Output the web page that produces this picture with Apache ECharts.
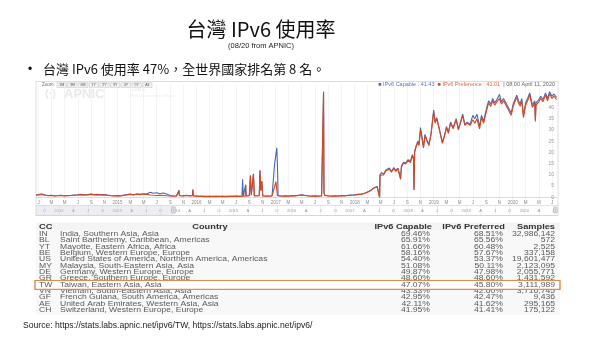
<!DOCTYPE html>
<html><head><meta charset="utf-8">
<script src="https://cdn.jsdelivr.net/npm/echarts@6/dist/echarts.min.js"></script>
<style>html,body{margin:0;padding:0;background:#fff}#c{width:600px;height:338px}</style>
</head><body><div id="c"></div>
<script>
// ---------- chart data ----------
const dates = [
'2013-12-20','2014-01-01','2014-01-15','2014-02-01','2014-02-15','2014-03-01','2014-03-15','2014-04-01','2014-04-15','2014-05-01','2014-05-15','2014-06-01','2014-06-15',
'2014-07-01','2014-07-15','2014-08-01','2014-08-15','2014-09-01','2014-09-15','2014-10-01','2014-10-15','2014-11-01','2014-11-15','2014-12-01','2014-12-15',
'2015-01-01','2015-01-15','2015-02-01','2015-02-15','2015-03-01','2015-03-15','2015-04-01','2015-04-15','2015-05-01','2015-05-15','2015-06-01','2015-06-15',
'2015-07-01','2015-07-15','2015-08-01','2015-08-15','2015-09-01','2015-09-15','2015-10-01','2015-10-10','2015-10-12','2015-10-14','2015-11-01','2015-11-15',
'2015-12-01','2015-12-13','2015-12-15','2015-12-17','2016-01-01','2016-01-15','2016-02-01','2016-02-15','2016-03-01','2016-03-15','2016-04-01','2016-04-15',
'2016-05-01','2016-05-15','2016-06-01','2016-06-15','2016-07-01','2016-07-15','2016-07-29','2016-08-01','2016-08-04','2016-08-13','2016-08-15','2016-08-17',
'2016-09-01','2016-09-06','2016-09-10','2016-09-20','2016-09-24','2016-10-01','2016-10-17','2016-10-20','2016-10-24','2016-10-29','2016-11-02','2016-11-15',
'2016-12-01','2016-12-15','2016-12-24','2016-12-27','2017-01-02','2017-01-06','2017-01-09','2017-01-12','2017-02-01','2017-02-15','2017-03-01','2017-03-15',
'2017-04-01','2017-04-15','2017-05-01','2017-05-06','2017-05-15','2017-06-01','2017-06-15','2017-07-01','2017-07-15','2017-08-01','2017-08-08','2017-08-10',
'2017-08-12','2017-08-16','2017-09-01','2017-09-15','2017-10-01','2017-10-15','2017-11-01','2017-11-15','2017-12-01','2017-12-15','2018-01-01','2018-01-15',
'2018-02-01','2018-02-15','2018-03-01','2018-03-15','2018-04-01','2018-04-15','2018-04-24','2018-04-26','2018-04-28','2018-05-05','2018-05-15','2018-05-25',
'2018-06-01','2018-06-10','2018-06-20','2018-07-01','2018-07-10','2018-07-20','2018-08-01','2018-08-05','2018-08-15','2018-08-25','2018-09-05','2018-09-15',
'2018-09-25','2018-09-30','2018-10-02','2018-10-05','2018-10-12','2018-10-20','2018-10-25','2018-11-01','2018-11-08','2018-11-15','2018-11-22','2018-12-01',
'2018-12-10','2018-12-20','2019-01-01','2019-01-08','2019-01-15','2019-01-25','2019-02-01','2019-02-10','2019-02-20','2019-03-01','2019-03-10','2019-03-20',
'2019-04-01','2019-04-15','2019-04-25','2019-05-05','2019-05-15','2019-05-25','2019-06-05','2019-06-18','2019-07-01','2019-07-10','2019-07-20','2019-08-01',
'2019-08-10','2019-08-20','2019-09-01','2019-09-12','2019-09-22','2019-10-01','2019-10-10','2019-10-20','2019-11-01','2019-11-10','2019-11-20','2019-12-01',
'2019-12-12','2019-12-25','2020-01-05','2020-01-20','2020-01-28','2020-02-05','2020-02-12','2020-02-20','2020-03-01','2020-03-10','2020-03-20','2020-04-01',
'2020-04-12','2020-04-15','2020-04-18','2020-05-01','2020-05-10','2020-05-20','2020-06-01','2020-06-10','2020-06-20','2020-07-01','2020-07-10','2020-07-22'
];
const capable = [
1.0,1.2,1.4,1.0,0.8,0.9,0.7,0.8,0.9,0.7,0.8,0.9,1.0,
1.1,1.3,1.1,1.2,1.4,1.2,1.3,1.1,1.2,1.0,0.8,0.7,
0.8,0.7,1.0,1.2,1.4,1.1,1.5,1.3,1.6,1.5,2.2,1.8,
2.0,1.6,1.9,1.5,0.8,0.6,0.7,0.8,3.1,0.8,0.7,0.9,
0.7,0.8,3.4,0.7,0.6,0.5,0.5,0.4,0.5,0.4,0.5,0.4,
0.5,0.4,0.5,0.5,0.6,0.5,0.6,8.0,0.6,0.6,5.6,0.7,
0.8,9.8,1.0,10.5,0.7,0.7,0.8,12.0,3.1,7.2,0.7,0.6,
0.6,0.7,0.7,15.0,15.5,22.0,14.0,0.7,0.6,0.7,0.6,0.8,
0.7,0.9,1.1,1.9,0.9,0.7,0.6,0.7,0.6,0.7,0.7,47.0,
2.1,0.9,0.7,0.6,0.7,0.6,0.8,0.7,0.9,1.0,1.1,1.3,
1.5,1.8,2.4,3.0,4.3,4.8,5.3,0.0,10.0,11.0,10.4,12.2,
11.5,13.0,11.6,13.2,12.0,13.0,8.4,14.0,15.6,15.3,16.8,16.0,
19.0,17.4,3.4,20.5,23.0,25.0,23.5,31.0,27.0,22.5,28.0,25.5,
23.5,28.5,38.8,33.5,35.5,31.5,28.5,24.5,27.5,31.5,29.0,33.5,
31.0,35.0,30.5,33.5,37.0,32.5,33.5,32.5,36.5,35.0,37.0,31.5,
36.5,34.0,39.0,43.0,41.5,44.0,42.0,43.5,45.8,42.5,44.0,42.0,
40.0,37.5,42.0,45.5,43.0,41.5,44.0,36.5,42.0,44.0,46.5,41.0,
43.0,34.5,42.0,43.5,45.0,43.5,46.5,44.0,47.0,45.0,46.0,44.5
];
const preferred = [
0.9,1.1,1.3,0.9,0.7,0.8,0.6,0.7,0.8,0.6,0.7,0.8,0.9,
1.0,1.2,1.0,1.1,1.3,1.1,1.2,1.0,1.1,0.9,0.7,0.6,
0.7,0.6,0.9,1.1,1.3,1.0,1.4,1.2,1.5,1.3,1.0,0.9,
0.8,0.9,0.8,0.7,0.6,0.5,0.6,0.7,3.0,0.7,0.6,0.8,
0.6,0.7,3.3,0.6,0.5,0.4,0.4,0.3,0.4,0.3,0.4,0.3,
0.4,0.3,0.4,0.4,0.5,0.4,0.5,0.6,0.5,0.5,5.5,0.6,
0.7,9.5,0.9,10.3,0.6,0.6,0.7,11.9,3.0,7.0,0.6,0.5,
0.5,0.6,0.6,0.7,7.0,6.5,0.8,0.6,0.5,0.6,0.5,0.7,
0.6,0.8,1.0,1.8,0.8,0.6,0.5,0.6,0.5,0.6,0.6,47.0,
2.0,0.8,0.6,0.5,0.6,0.5,0.7,0.6,0.8,0.9,1.0,1.2,
1.4,1.7,2.3,2.9,4.2,4.6,5.1,0.0,9.8,10.5,10.0,11.8,
11.0,12.5,11.2,12.8,11.5,12.6,8.0,13.5,15.2,14.8,16.4,15.5,
18.5,17.0,3.2,20.0,22.5,24.5,23.0,30.0,26.0,22.0,27.5,25.0,
23.0,28.0,38.2,33.0,35.0,31.0,28.0,24.0,27.0,31.0,28.5,33.0,
30.5,34.5,30.0,33.0,36.5,32.0,33.0,32.0,34.5,33.0,35.0,30.5,
35.5,33.0,38.0,42.0,40.5,43.0,41.0,42.5,44.0,41.5,43.0,41.0,
39.0,36.5,41.0,44.5,42.0,40.5,43.0,35.5,41.0,43.0,45.5,40.0,
42.0,33.8,41.0,42.5,44.0,42.5,45.5,43.0,46.0,44.0,45.0,43.5
];
const xMin = '2013-12-20', xMax = '2020-07-24';
const navMin = '2011-08-10', navMax = '2020-07-24';
const tickDates = [
'2014-01-01','2014-03-01','2014-05-01','2014-07-01','2014-09-01','2014-11-01',
'2015-01-01','2015-03-01','2015-05-01','2015-07-01','2015-09-01','2015-11-01',
'2016-01-01','2016-03-01','2016-05-01','2016-07-01','2016-09-01','2016-11-01',
'2017-01-01','2017-03-01','2017-05-01','2017-07-01','2017-09-01','2017-11-01',
'2018-01-01','2018-03-01','2018-05-01','2018-07-01','2018-09-01','2018-11-01',
'2019-01-01','2019-03-01','2019-05-01','2019-07-01','2019-09-01','2019-11-01',
'2020-01-01','2020-03-01','2020-05-01','2020-07-01'];
const tickLabels = ['J','M','M','J','S','N','2015','M','M','J','S','N','2016','M','M','J','S','N',
'2017','M','M','J','S','N','2018','M','M','J','S','N','2019','M','M','J','S','N','2020','M','M','J'];
const navTickDates = ['2011-10-01',
'2012-01-01','2012-04-01','2012-07-01','2012-10-01','2013-01-01','2013-04-01','2013-07-01','2013-10-01',
'2014-01-01','2014-04-01','2014-07-01','2014-10-01','2015-01-01','2015-04-01','2015-07-01','2015-10-01',
'2016-01-01','2016-04-01','2016-07-01','2016-10-01','2017-01-01','2017-04-01','2017-07-01','2017-10-01',
'2018-01-01','2018-04-01','2018-07-01','2018-10-01','2019-01-01','2019-04-01','2019-07-01','2019-10-01',
'2020-01-01','2020-04-01','2020-07-01'];
const navTickLabels = ['O','2012','A','J','O','2013','A','J','O','2014','A','J','O','2015','A','J','O',
'2016','A','J','O','2017','A','J','O','2018','A','J','O','2019','A','J','O','2020','A','J'];
const zoomButtons = ['1M','3M','6M','1Y','2Y','3Y','4Y','5Y','All'];
const legendValues = ['41.43','41.01'];
// ---------- table data ----------
const tableHeader = ['CC','Country','IPv6 Capable','IPv6 Preferred','Samples'];
const cc = ['IN','BL','YT','BE','US','MY','DE','GR','TW','VN','GF','AE','CH'];
const country = ['India, Southern Asia, Asia','Saint Barthelemy, Caribbean, Americas','Mayotte, Eastern Africa, Africa',
'Belgium, Western Europe, Europe','United States of America, Northern America, Americas','Malaysia, South-Eastern Asia, Asia',
'Germany, Western Europe, Europe','Greece, Southern Europe, Europe','Taiwan, Eastern Asia, Asia','Vietnam, South-Eastern Asia, Asia',
'French Guiana, South America, Americas','United Arab Emirates, Western Asia, Asia','Switzerland, Western Europe, Europe'];
const capPct = ['69.46%','65.91%','61.66%','58.16%','54.40%','51.08%','49.87%','48.60%','47.07%','43.33%','42.95%','42.11%','41.95%'];
const prefPct = ['68.51%','65.56%','60.48%','57.67%','53.37%','50.11%','47.98%','48.60%','45.80%','42.60%','42.47%','41.62%','41.41%'];
const samples = ['32,986,142','572','2,525','337,158','19,601,477','2,123,095','2,055,771','1,431,592','3,111,989','3,716,745','9,436','295,165','175,122'];
const highlightCC = 'TW';

// ---------- build ----------
const P = s => +echarts.time.parse(s);
const tickTs = tickDates.map(P);
const navTs = navTickDates.map(P);
const labelOf = (arrTs, arrLab) => v => { const i = arrTs.indexOf(+v); return i < 0 ? '' : arrLab[i]; };
const SANS = '"Liberation Sans", Arial, sans-serif';
const CJK = '"Noto Sans CJK TC", "Noto Sans CJK SC", sans-serif';
const BLUE = '#4a67b1', RED = '#d8471d';

function txt(text, x, y, font, fill, align, extra) {
  return Object.assign({type:'text', silent:true, style:{text, x, y, font, fill,
    textAlign: align||'left', align: align||'left', textVerticalAlign:'middle', verticalAlign:'middle'}}, extra||{});
}

const G = [];
G.push(txt('台灣 IPv6 使用率', 261, 29, '400 20px ' + CJK, '#111', 'center'));
G.push(txt('(08/20 from APNIC)', 261, 46, '7.5px ' + SANS, '#222', 'center'));
G.push(txt('•', 30, 70, '12px ' + SANS, '#111', 'center'));
G.push(txt('台灣 IPv6 使用率 47%，全世界國家排名第 8 名。', 43, 69.5, '13px ' + CJK, '#111', 'left'));
G.push(txt('Source: https://stats.labs.apnic.net/ipv6/TW, https://stats.labs.apnic.net/ipv6/', 23, 326, '8.6px ' + SANS, '#222', 'left'));
G.push({type:'rect', silent:true, z:0, shape:{x:36, y:81.5, width:522, height:134}, style:{fill:'none', stroke:'#d6d6d6', lineWidth:0.8}});
G.push(txt('Zoom:', 42, 85, '4.5px ' + SANS, '#666', 'left'));
zoomButtons.forEach((b, i) => {
  const bx = 57 + i * 10.7;
  G.push({type:'rect', silent:true, shape:{x:bx, y:82.8, width:9.4, height:4.6}, style:{fill:'#f3f3f3', stroke:'#b8b8b8', lineWidth:0.5}});
  G.push(txt(b, bx + 4.7, 85.1, '3.6px ' + SANS, '#555', 'center'));
});
G.push(txt('(·)', 45, 94, 'bold 11px ' + SANS, '#e9e9e9', 'left'));
G.push(txt('APNIC', 64, 94, 'bold 13px ' + SANS, '#e9e9e9', 'left'));
G.push(txt('LABS', 132, 89.5, '5px ' + SANS, '#e6e6e6', 'left'));
G.push(txt('IPv6 Measurement Maps', 130, 95.5, '4px ' + SANS, '#ececec', 'left'));
G.push({type:'text', silent:true, z:10, style:{
  text:'{b|■}{bt| IPv6 Capable : ' + legendValues[0] + '  }{r|■}{rt| IPv6 Preference : ' + legendValues[1] + '  }{g|| 08:00 April 11, 2020}',
  x:555, y:84.6, textAlign:'right', align:'right', textVerticalAlign:'middle', verticalAlign:'middle',
  font:'5.5px ' + SANS,
  rich:{b:{fill:BLUE, fontSize:5.5}, bt:{fill:'#5b73b5', fontSize:5.5}, r:{fill:RED, fontSize:5.5}, rt:{fill:'#d46a4a', fontSize:5.5}, g:{fill:'#666', fontSize:5.5}}
}});

// table
const SX = 1.32;
const tb = [];
const colX = [39, 60, 432, 505, 555];
const rowY0 = 234.3, rowH = 6.33;
const T = (s, x, y, font, fill, align) => txt(s, x / SX, y, font, fill, align);
tb.push({type:'rect', silent:true, shape:{x:36/SX, y:222.5, width:524/SX, height:8}, style:{fill:'#f4f4f4'}});
tb.push({type:'rect', silent:true, shape:{x:36/SX, y:230.8, width:524/SX, height:84}, style:{fill:'#f8f8f8'}});
const HF = 'bold 7px ' + SANS;
tb.push(T(tableHeader[0], colX[0], 227, HF, '#333', 'left'));
tb.push(T(tableHeader[1], 210, 227, HF, '#333', 'center'));
tb.push(T(tableHeader[2], colX[2], 227, HF, '#333', 'right'));
tb.push(T(tableHeader[3], colX[3], 227, HF, '#333', 'right'));
tb.push(T(tableHeader[4], colX[4], 227, HF, '#333', 'right'));
const rowTexts = (i) => {
  const y = rowY0 + i * rowH, f = '6.5px ' + SANS, c = '#5a5a5a';
  return [T(cc[i], colX[0], y, f, c, 'left'), T(country[i], colX[1], y, f, c, 'left'),
          T(capPct[i], colX[2] - 2, y, f, c, 'right'), T(prefPct[i], colX[3] - 2, y, f, c, 'right'),
          T(samples[i], colX[4], y, f, c, 'right')];
};
const hi = cc.indexOf(highlightCC);
cc.forEach((_, i) => { if (i !== hi) tb.push(...rowTexts(i)); });
const hy = rowY0 + hi * rowH;
tb.push({type:'rect', silent:true, shape:{x:35/SX, y:hy - 4.4, width:525/SX, height:8.8},
  style:{fill:'#ffffff', stroke:'#e38a4e', lineWidth:1.1, strokeNoScale:true}});
tb.push(...rowTexts(hi));
G.push({type:'group', x:0, y:0, scaleX:SX, scaleY:1, children:tb});

const chart = echarts.init(document.getElementById('c'), null, {renderer:'canvas'});
const option = {
  animation:false,
  backgroundColor:'#fff',
  grid:[
    {left:36, right:43, top:85, bottom:140.7, containLabel:false},
    {left:36, right:43, top:205.5, height:9.5, containLabel:false}
  ],
  xAxis:[
    {type:'value', gridIndex:0, min:P(xMin), max:P(xMax),
     axisLine:{show:true, lineStyle:{color:'#c8c8c8', width:0.6}},
     axisTick:{show:true, customValues:tickTs, length:1.5, lineStyle:{color:'#c8c8c8', width:0.5}},
     axisLabel:{customValues:tickTs, formatter:labelOf(tickTs, tickLabels), fontSize:4.5, color:'#888', margin:2.5, fontFamily:'Liberation Sans'},
     splitLine:{show:true, lineStyle:{color:'#ebebeb', width:0.6}}},
    {type:'value', gridIndex:1, min:P(navMin), max:P(navMax),
     axisLine:{show:true, lineStyle:{color:'#d0d0d0', width:0.6}},
     axisTick:{show:false, customValues:navTs},
     axisLabel:{customValues:navTs, formatter:labelOf(navTs, navTickLabels), inside:true, fontSize:4.2, color:'#999', margin:2, fontFamily:'Liberation Sans'},
     splitLine:{show:true, lineStyle:{color:'#e4e4e4', width:0.5}}}
  ],
  yAxis:[
    {type:'value', gridIndex:0, min:0, max:50, interval:5, position:'right',
     axisLine:{show:false}, axisTick:{show:false}, splitLine:{show:false},
     axisLabel:{inside:true, margin:3, fontSize:5, color:'#999', fontFamily:'Liberation Sans',
       formatter:v => (v <= 40 ? String(v) : '')}},
    {type:'value', gridIndex:1, min:0, max:1, show:false}
  ],
  series:[
    {type:'line', name:'IPv6 Capable', xAxisIndex:0, yAxisIndex:0, showSymbol:false, symbol:'none', z:2,
     data:dates.map((d, i) => [P(d), capable[i]]), lineStyle:{color:BLUE, width:1.1}, itemStyle:{color:BLUE}},
    {type:'line', name:'IPv6 Preference', xAxisIndex:0, yAxisIndex:0, showSymbol:false, symbol:'none', z:3,
     data:dates.map((d, i) => [P(d), preferred[i]]), lineStyle:{color:RED, width:1.1}, itemStyle:{color:RED}},
    {type:'line', name:'nav', xAxisIndex:1, yAxisIndex:1, data:[], showSymbol:false, silent:true}
  ],
  graphic:G
};
chart.setOption(option);

const hx = chart.convertToPixel({xAxisIndex:1}, P(xMin));
const hxEnd = chart.convertToPixel({xAxisIndex:1}, P(xMax));
const gl = chart.convertToPixel({xAxisIndex:1}, P(navMin));
G.push({type:'rect', silent:true, z:5, shape:{x:gl, y:205.5, width:hx - gl, height:9.5}, style:{fill:'rgba(200,205,215,0.35)'}});
G.push({type:'line', silent:true, z:6, shape:{x1:36, y1:205.5, x2:558, y2:205.5}, style:{stroke:'#cfcfcf', lineWidth:0.6}});
[hx, hxEnd - 1.5].forEach(x => {
  G.push({type:'rect', silent:true, z:7, shape:{x:x - 1.6, y:207, width:3.2, height:6, r:0.6}, style:{fill:'#f2f2f2', stroke:'#888', lineWidth:0.5}});
  G.push({type:'line', silent:true, z:8, shape:{x1:x, y1:208.3, x2:x, y2:211.7}, style:{stroke:'#888', lineWidth:0.4}});
});
chart.setOption({graphic:G});
</script></body></html>
